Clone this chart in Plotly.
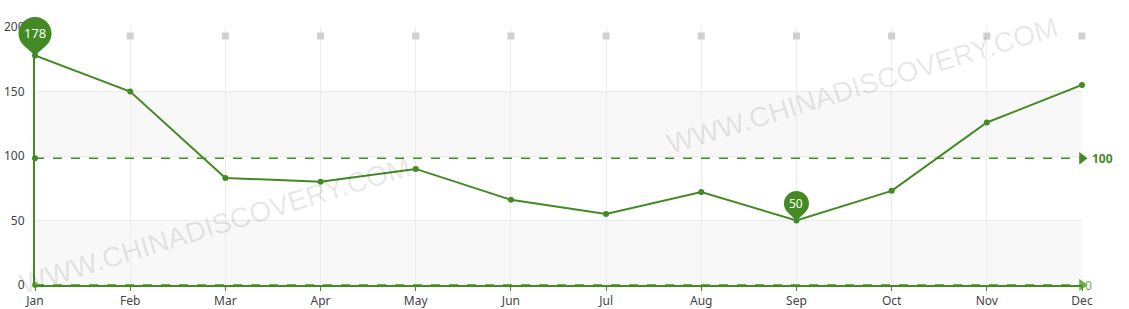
import math
import numpy as np
import plotly.graph_objects as go

months = ["Jan", "Feb", "Mar", "Apr", "May", "Jun", "Jul", "Aug", "Sep", "Oct", "Nov", "Dec"]
values = [178, 150, 83, 80, 90, 66, 55, 72, 50, 73, 126, 155]
top_markers = [193] * 12
y_ticks = [0, 50, 100, 150, 200]
avg_label = "100"
zero_label = "0"
watermark = "WWW.CHINADISCOVERY.COM"

DARK = "#438a24"
LIGHT = "#6cae45"
YMAX = 200

avg_val = float(np.mean(values))
zero_val = 0

fig = go.Figure()

# gray square markers at top
fig.add_trace(go.Scatter(x=months, y=top_markers, mode="markers",
                         marker=dict(symbol="square", size=7, color="#d0d0d0"),
                         hoverinfo="skip", cliponaxis=False))

# average mark line
fig.add_trace(go.Scatter(x=[months[0], months[-1]], y=[avg_val, avg_val], mode="lines",
                         line=dict(color=DARK, width=1.5, dash="dash"), hoverinfo="skip"))
fig.add_trace(go.Scatter(x=[months[0]], y=[avg_val], mode="markers",
                         marker=dict(symbol="circle", size=6, color=DARK), cliponaxis=False, hoverinfo="skip"))
fig.add_trace(go.Scatter(x=[months[-1]], y=[avg_val], mode="markers",
                         marker=dict(symbol="triangle-right", size=11, color=DARK), cliponaxis=False, hoverinfo="skip"))

# zero mark line
fig.add_trace(go.Scatter(x=[months[0], months[-1]], y=[zero_val, zero_val], mode="lines",
                         line=dict(color=LIGHT, width=2, dash="dash"), hoverinfo="skip", cliponaxis=False))
fig.add_trace(go.Scatter(x=[months[0]], y=[zero_val], mode="markers",
                         marker=dict(symbol="circle", size=6, color=LIGHT), cliponaxis=False, hoverinfo="skip"))
fig.add_trace(go.Scatter(x=[months[-1]], y=[zero_val], mode="markers",
                         marker=dict(symbol="triangle-right", size=11, color=LIGHT), cliponaxis=False, hoverinfo="skip"))

# main line
fig.add_trace(go.Scatter(x=months, y=values, mode="lines+markers",
                         line=dict(color=DARK, width=2),
                         marker=dict(size=6, color=DARK), cliponaxis=False))

shapes = []
for lo, hi in [(0, 50), (100, 150)]:
    shapes.append(dict(type="rect", xref="paper", yref="y", x0=0, x1=1, y0=lo, y1=hi,
                       fillcolor="#f8f8f8", line=dict(width=0), layer="below"))

annotations = []


def add_pin(idx, val, d, r, fsize):
    xa = idx / (len(months) - 1)
    ya = val / YMAX
    c = r / d
    s = math.sqrt(1 - c * c)
    tx = r * s
    ty = d - r * c
    shapes.append(dict(type="circle", xref="paper", yref="paper", xsizemode="pixel", ysizemode="pixel",
                       xanchor=xa, yanchor=ya, x0=-r, x1=r, y0=d - r, y1=d + r,
                       fillcolor=DARK, line=dict(width=0), layer="above"))
    shapes.append(dict(type="path", xref="paper", yref="paper", xsizemode="pixel", ysizemode="pixel",
                       xanchor=xa, yanchor=ya,
                       path=f"M 0,0 L {-tx:.2f},{ty:.2f} L {tx:.2f},{ty:.2f} Z",
                       fillcolor=DARK, line=dict(width=0), layer="above"))
    annotations.append(dict(x=months[idx], y=val, xref="x", yref="y", text=str(val), showarrow=False,
                            yshift=d, font=dict(color="white", size=fsize, family="Noto Sans")))


imax = int(np.argmax(values))
imin = int(np.argmin(values))
add_pin(imax, values[imax], 22, 16.5, 13)
add_pin(imin, values[imin], 17, 12.5, 12)

annotations.append(dict(x=months[-1], y=avg_val, text=f"<b>{avg_label}</b>", showarrow=False,
                        xanchor="left", xshift=8, font=dict(color=DARK, size=12, family="Noto Sans")))
annotations.append(dict(x=months[-1], y=zero_val, text=zero_label, showarrow=False,
                        xanchor="left", xshift=1, font=dict(color=LIGHT, size=12, family="Noto Sans")))

for (xp, yp) in [(0.172, 0.23), (0.79, 0.775)]:
    annotations.append(dict(x=xp, y=yp, xref="paper", yref="paper", text=watermark, showarrow=False,
                            xanchor="center", yanchor="middle",
                            textangle=-17, font=dict(color="rgba(0,0,0,0.1)", size=28, family="Liberation Sans")))

fig.update_layout(
    width=1129, height=309,
    margin=dict(l=35, r=47, t=27, b=24, autoexpand=False),
    paper_bgcolor="white", plot_bgcolor="white",
    showlegend=False,
    shapes=shapes, annotations=annotations,
    font=dict(family="Noto Sans", size=12, color="#444"),
    xaxis=dict(type="category", categoryorder="array", categoryarray=months, range=[0, len(months) - 1],
               showgrid=True, gridcolor="#ececec", gridwidth=1, automargin=False,
               showline=True, linecolor=DARK, linewidth=2,
               ticks="outside", ticklen=4, tickcolor=DARK, tickwidth=1,
               tickfont=dict(size=12, color="#444"), zeroline=False, fixedrange=True),
    yaxis=dict(range=[0, YMAX], tickvals=y_ticks, showgrid=True, gridcolor="#ececec", gridwidth=1,
               showline=True, linecolor=DARK, linewidth=2, zeroline=False, automargin=False,
               ticks="", ticklabelstandoff=6, tickfont=dict(size=12, color="#444"), fixedrange=True),
)

fig.write_html("out.html")
